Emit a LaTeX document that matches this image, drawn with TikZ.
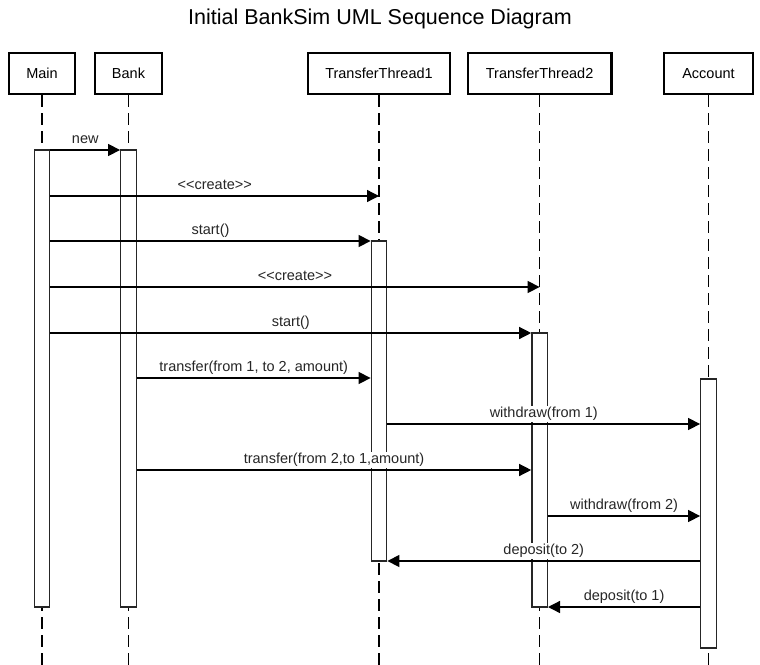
\documentclass[tikz,border=0pt]{standalone}
\usepackage{fontspec}
\setmainfont{Liberation Sans}
\usetikzlibrary{arrows.meta}
\begin{document}
\begin{tikzpicture}[x=1pt,y=-1pt,
  head/.style={draw, line width=2.2pt, minimum height=41pt, inner sep=0pt, font=\fontsize{14.5}{16}\selectfont},
  act/.style={draw=black!85, fill=white, line width=1.3pt, minimum width=15.5pt, inner sep=0pt},
  life/.style={line width=1.3pt, dash pattern=on 12pt off 6pt},
  msg/.style={line width=1.3pt, -{Triangle[length=12pt,width=12pt]}},
  lbl/.style={fill=white, inner sep=1.5pt, text height=10.5pt, text depth=3pt, font=\fontsize{14.5}{16}\selectfont, text=black!85}]
\useasboundingbox (0,0) rectangle (760,664);
\node (title) at (380,19) {\fontsize{21.5}{24}\selectfont Initial BankSim UML Sequence Diagram};
% headers
\node[head, minimum width=65.8pt]  (hMain) at (42,73.4)  {Main};
\node[head, minimum width=66.8pt]  (hBank) at (128.5,73.4) {Bank};
\node[head, minimum width=142.5pt] (hT1)   at (379,73.4)  {TransferThread1};
\node[head, minimum width=143.8pt] (hT2)   at (539.6,73.4) {TransferThread2};
\node[head, minimum width=88.8pt]  (hAcc)  at (708.5,73.4) {Account};
% lifeline ends
\coordinate (eMain) at (42,666);
\coordinate (eBank) at (128.5,666);
\coordinate (eT1)   at (379,666);
\coordinate (eT2)   at (539.6,666);
\coordinate (eAcc)  at (708.5,666);
\draw[life] (hMain.south) -- (eMain);
\draw[life] (hBank.south) -- (eBank);
\draw[life] (hT1.south) -- (eT1);
\draw[life] (hT2.south) -- (eT2);
\draw[life] (hAcc.south) -- (eAcc);
% activations
\node[act, minimum height=457pt] (aMain) at (42,378.5) {};
\node[act, minimum height=457pt] (aBank) at (128.5,378.5) {};
\node[act, minimum height=320pt] (aT1)   at (379,401) {};
\node[act, minimum height=274pt] (aT2)   at (539.6,470) {};
\node[act, minimum height=269pt] (aAcc)  at (708.5,513.5) {};
% messages
\draw[msg] (aMain.east |- 0,150) -- node[lbl, midway, yshift=10pt] {new} (aBank.west |- 0,150);
\draw[msg] (aMain.east |- 0,196) -- node[lbl, midway, yshift=10pt] {{<}{<}create{>}{>}} (hT1.south |- 0,196);
\draw[msg] (aMain.east |- 0,241) -- node[lbl, midway, yshift=10pt] {start()} (aT1.west |- 0,241);
\draw[msg] (aMain.east |- 0,287) -- node[lbl, midway, yshift=10pt] {{<}{<}create{>}{>}} (hT2.south |- 0,287);
\draw[msg] (aMain.east |- 0,333) -- node[lbl, midway, yshift=10pt] {start()} (aT2.west |- 0,333);
\draw[msg] (aBank.east |- 0,378) -- node[lbl, midway, yshift=10pt] {transfer(from 1, to 2, amount)} (aT1.west |- 0,378);
\draw[msg] (aT1.east |- 0,424) -- node[lbl, midway, yshift=10pt] {withdraw(from 1)} (aAcc.west |- 0,424);
\draw[msg] (aBank.east |- 0,470) -- node[lbl, midway, yshift=10pt] {transfer(from 2,to 1,amount)} (aT2.west |- 0,470);
\draw[msg] (aT2.east |- 0,516) -- node[lbl, midway, yshift=10pt] {withdraw(from 2)} (aAcc.west |- 0,516);
\draw[msg] (aAcc.west |- 0,561) -- node[lbl, midway, yshift=10pt] {deposit(to 2)} (aT1.east |- 0,561);
\draw[msg] (aAcc.west |- 0,607) -- node[lbl, midway, yshift=10pt] {deposit(to 1)} (aT2.east |- 0,607);
\end{tikzpicture}
\end{document}
